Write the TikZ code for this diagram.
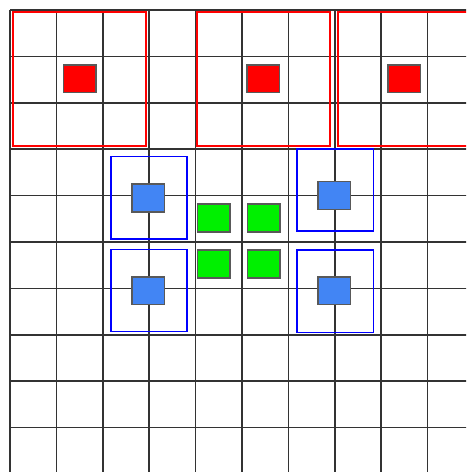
\documentclass[tikz,border=0pt]{standalone}
\usepackage{tikz}

\definecolor{cellblue}{RGB}{66,133,244}
\definecolor{cellgreen}{RGB}{0,240,0}

\begin{document}
\begin{tikzpicture}[x=1cm, y=-1cm,
    gridline/.style={black!80, line width=1pt},
    cellfill/.style={rectangle, draw=black!65, line width=1pt, inner sep=0pt, minimum width=0.7cm, minimum height=0.6cm},
    redarea/.style={draw=red, line width=1pt},
    bluearea/.style={draw=blue, line width=1pt}]
    \useasboundingbox (-0.2155,-0.2155) rectangle (9.828,9.957);
    \clip (-0.2155,-0.2155) rectangle (9.828,9.957);

    % Draw grid
    \foreach \i in {0,...,9} {
        \draw[gridline] (\i,0) -- (\i,10);
        \draw[gridline] (0,\i) -- (10,\i);
    }

    % Red areas
    \draw[redarea] (0.07,0.05) rectangle (2.93,2.93);
    \draw[redarea] (4.03,0.05) rectangle (6.90,2.93);
    \draw[redarea] (7.07,0.05) rectangle (9.93,2.93);

    % Blue areas
    \draw[bluearea] (2.17,3.16) rectangle (3.81,4.94);
    \draw[bluearea] (2.17,5.16) rectangle (3.81,6.93);
    \draw[bluearea] (6.18,3.00) rectangle (7.83,4.76);
    \draw[bluearea] (6.18,5.17) rectangle (7.83,6.95);

    % Draw nodes
    \node[cellfill, fill=red] (r1) at (1.50,1.48) {};
    \node[cellfill, fill=red] (r2) at (5.46,1.48) {};
    \node[cellfill, fill=red] (r3) at (8.50,1.48) {};

    \node[cellfill, fill=cellblue] (b1) at (2.98,4.05) {};
    \node[cellfill, fill=cellblue] (b2) at (2.98,6.05) {};
    \node[cellfill, fill=cellblue] (b3) at (6.99,4.00) {};
    \node[cellfill, fill=cellblue] (b4) at (6.99,6.05) {};

    \node[cellfill, fill=cellgreen] (g1) at (4.39,4.48) {};
    \node[cellfill, fill=cellgreen] (g2) at (5.47,4.48) {};
    \node[cellfill, fill=cellgreen] (g3) at (4.39,5.47) {};
    \node[cellfill, fill=cellgreen] (g4) at (5.47,5.47) {};
\end{tikzpicture}
\end{document}
